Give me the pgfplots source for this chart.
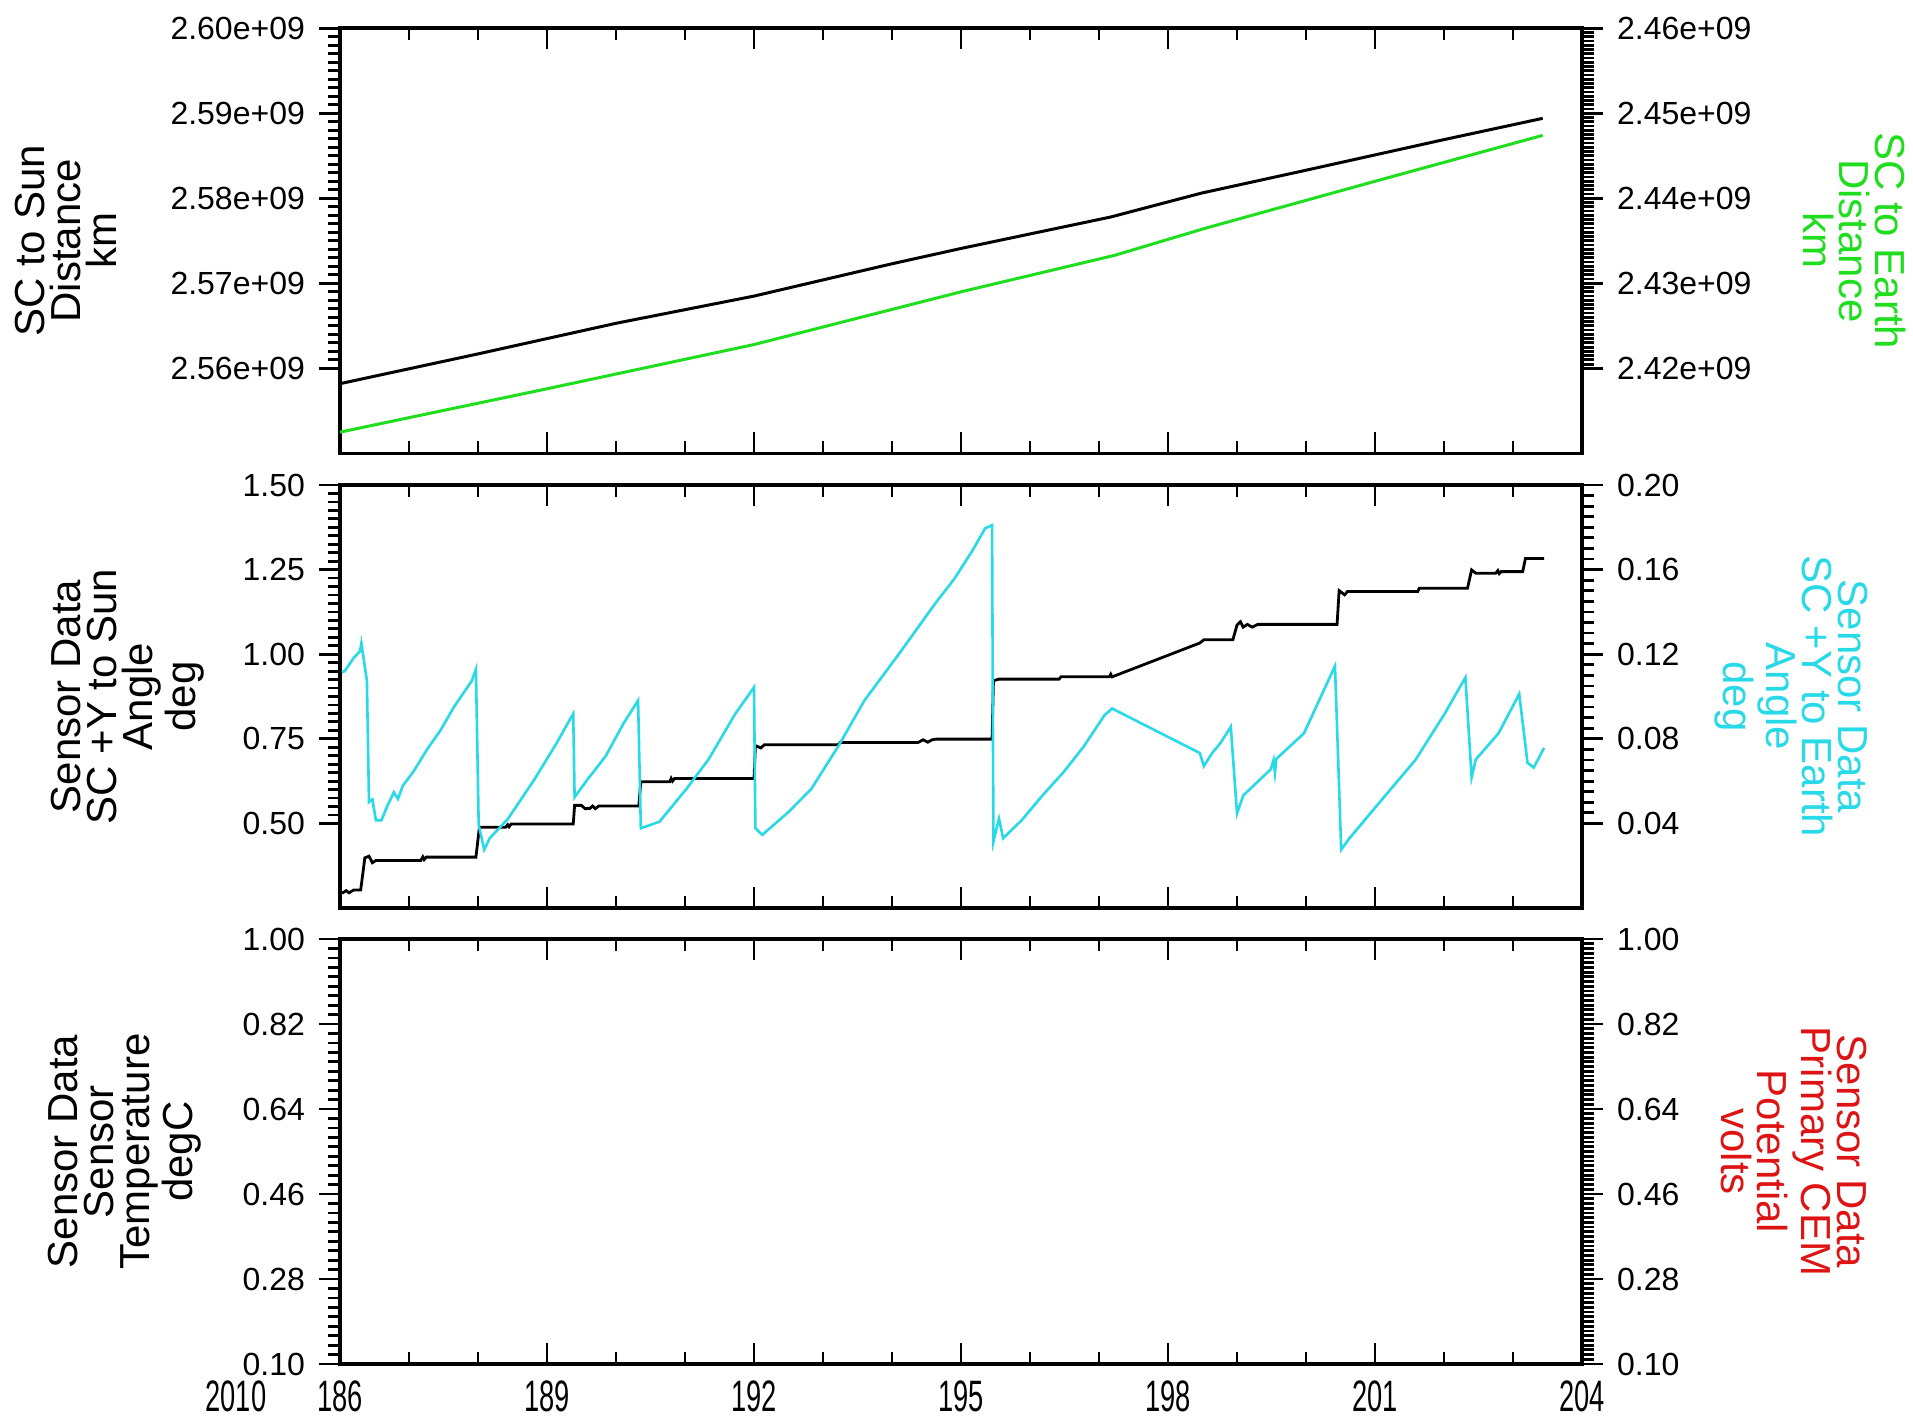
\documentclass[border=0pt]{standalone}
\usepackage{fontspec}
\setmainfont{Liberation Sans}
\usepackage{graphicx}
\usepackage{pgfplots}
\pgfplotsset{compat=1.18}

\definecolor{scgreen}{RGB}{30,222,30}
\definecolor{sccyan}{RGB}{40,218,232}
\definecolor{scred}{RGB}{222,20,20}

\newcommand\ticksize{\fontsize{8}{9}\selectfont}
\newcommand\labsize{\fontsize{10.5}{9}\selectfont}
\newcommand\xsize{\fontsize{11}{12}\selectfont}
\newcommand\cx[1]{\scalebox{0.62}[1]{#1}}

\pgfplotsset{
  base/.style={
    scale only axis, width=310.5pt, anchor=south west,
    xmin=186, xmax=204,
    axis line style={line width=0.9pt},
    every tick/.style={line width=0.7pt, black},
    major tick length=5.25pt, minor tick length=3pt,
    tick label style={font=\ticksize},
  },
  leftax/.style={base,
    xtick={186,189,...,204}, minor x tick num=2,
    xtick align=inside, ytick align=outside,
    xtick pos=both, ytick pos=left, xticklabels={},
  },
  rightax/.style={base,
    xtick=\empty, ytick align=outside,
    ytick pos=right, yticklabel pos=right,
  },
}

\begin{document}
\begin{tikzpicture}
\useasboundingbox (0,0) rectangle (478.25pt,354.25pt);

% ---- top panel: distances (units of 1e9 km)
\begin{axis}[leftax, name=top, at={(85pt,240.9pt)}, height=106.3pt,
  ymin=2.55, ymax=2.60, ytick={2.56,2.57,2.58,2.59,2.60},
  yticklabels={2.56e+09,2.57e+09,2.58e+09,2.59e+09,2.60e+09},
  minor y tick num=9]
\addplot[black, line width=0.75pt] coordinates {
  (186.0,2.5582) (188,2.5617) (190,2.5653) (192,2.5685) (194,2.5723)
  (195,2.5741) (197.17,2.5778) (198.48,2.5806) (200,2.5833) (202,2.5869)
  (203.43,2.5894)};
\end{axis}
\begin{axis}[rightax, name=topR, at={(85pt,240.9pt)}, height=106.3pt,
  ymin=2.41, ymax=2.46, ytick={2.42,2.43,2.44,2.45,2.46},
  yticklabels={2.42e+09,2.43e+09,2.44e+09,2.45e+09,2.46e+09},
  minor y tick num=19]
\addplot[scgreen, line width=0.75pt] coordinates {
  (186.0,2.4125) (189,2.4176) (192,2.4228) (195,2.4290) (197.23,2.4333)
  (198.55,2.4365) (201,2.4420) (203.43,2.4474)};
\end{axis}

% ---- middle panel: angles
\begin{axis}[leftax, name=mid, at={(85pt,127.25pt)}, height=105.75pt,
  ymin=0.25, ymax=1.50, ytick={0.50,0.75,1.00,1.25,1.50},
  yticklabels={0.50,0.75,1.00,1.25,1.50},
  minor y tick num=9]
\addplot[black, line width=0.7pt] coordinates {
  (186.03,0.2936) (186.09,0.3014) (186.13,0.2950) (186.20,0.3033) (186.30,0.3033)
  (186.36,0.3983) (186.42,0.4031) (186.47,0.3837) (186.52,0.3905) (187.17,0.3905)
  (187.20,0.4010) (187.22,0.3930) (187.25,0.4003) (187.97,0.4003)
  (188.02,0.4884) (188.40,0.4884) (188.43,0.4960) (188.45,0.4900) (188.48,0.4981) (189.38,0.4981)
  (189.40,0.5533) (189.50,0.5533) (189.55,0.5436) (189.62,0.5440) (189.66,0.5514) (189.70,0.5436)
  (189.75,0.5514) (190.33,0.5514)
  (190.36,0.6231) (190.78,0.6231) (190.80,0.6330) (190.82,0.6250) (190.85,0.6328) (192.00,0.6328)
  (192.02,0.7297) (192.10,0.7230) (192.15,0.7326) (193.22,0.7326) (193.25,0.7393)
  (194.38,0.7393) (194.45,0.7471) (194.52,0.7400) (194.58,0.7471) (194.64,0.7491) (195.45,0.7491)
  (195.47,0.9215) (195.55,0.9264) (196.42,0.9264) (196.45,0.9331) (197.15,0.9331)
  (197.17,0.9409) (197.19,0.9331) (198.46,1.0330) (198.52,1.0427) (198.94,1.0427)
  (199.00,1.0863) (199.05,1.0960) (199.09,1.0800) (199.15,1.0880) (199.22,1.0800)
  (199.30,1.0882) (200.45,1.0882)
  (200.48,1.1880) (200.56,1.1754) (200.60,1.1851) (201.62,1.1851) (201.64,1.1948)
  (202.34,1.1948) (202.40,1.2491) (202.46,1.2393) (202.75,1.2393) (202.78,1.2470)
  (202.80,1.2380) (202.83,1.2440) (203.14,1.2440) (203.18,1.2829) (203.45,1.2829)};
\end{axis}
\begin{axis}[rightax, name=midR, at={(85pt,127.25pt)}, height=105.75pt,
  ymin=0, ymax=0.20, ytick={0.04,0.08,0.12,0.16,0.20},
  yticklabels={0.04,0.08,0.12,0.16,0.20},
  minor y tick num=7]
\addplot[sccyan, line width=0.65pt] coordinates {
  (186.03,0.1113) (186.07,0.1121) (186.20,0.1183) (186.29,0.1214) (186.31,0.1252)
  (186.39,0.1074) (186.42,0.0501) (186.47,0.0513) (186.52,0.0415) (186.60,0.0415)
  (186.68,0.0478) (186.78,0.0547) (186.84,0.0516) (186.91,0.0578) (187.07,0.0648)
  (187.26,0.0749) (187.46,0.0842) (187.65,0.0950) (187.78,0.1012) (187.91,0.1074)
  (187.97,0.1129) (188.01,0.0392) (188.09,0.0276) (188.17,0.0330) (188.43,0.0420)
  (188.82,0.0609) (189.14,0.0780) (189.38,0.0919)
  (189.40,0.0524) (189.59,0.0609) (189.85,0.0718) (190.11,0.0873) (190.32,0.0981)
  (190.36,0.0377) (190.63,0.0408) (191.02,0.0563) (191.34,0.0702) (191.73,0.0919)
  (192.00,0.1043) (192.02,0.0377) (192.12,0.0346) (192.50,0.0454) (192.83,0.0563)
  (193.22,0.0764) (193.60,0.0981) (194.12,0.1210) (194.64,0.1446) (194.90,0.1555)
  (195.16,0.1687) (195.35,0.1795) (195.45,0.1810)
  (195.47,0.0315) (195.55,0.0423) (195.61,0.0330) (195.88,0.0415) (196.18,0.0532)
  (196.48,0.0640) (196.78,0.0764) (197.08,0.0912) (197.19,0.0943)
  (198.46,0.0733) (198.52,0.0671) (198.64,0.0733) (198.76,0.0780) (198.91,0.0857)
  (199.00,0.0447) (199.09,0.0532) (199.49,0.0656) (199.53,0.0700) (199.55,0.0640)
  (199.57,0.0705) (199.97,0.0826) (200.42,0.1144)
  (200.51,0.0276) (200.63,0.0330) (200.99,0.0470) (201.59,0.0702) (202.01,0.0919)
  (202.31,0.1090) (202.40,0.0617) (202.46,0.0702) (202.79,0.0826) (203.09,0.1012)
  (203.21,0.0687) (203.30,0.0664) (203.45,0.0757)};
\end{axis}

% ---- bottom panel: empty
\begin{axis}[leftax, name=bot, at={(85pt,13.25pt)}, height=106.25pt,
  ymin=0.10, ymax=1.00, ytick={0.10,0.28,0.46,0.64,0.82,1.00},
  yticklabels={0.10,0.28,0.46,0.64,0.82,1.00},
  minor y tick num=8,
  xticklabels={\cx{186},\cx{189},\cx{192},\cx{195},\cx{198},\cx{201},\cx{204}},
  xticklabel style={font=\xsize, inner sep=0.4em}]
\end{axis}
\begin{axis}[rightax, name=botR, at={(85pt,13.25pt)}, height=106.25pt,
  ymin=0.10, ymax=1.00, ytick={0.10,0.28,0.46,0.64,0.82,1.00},
  yticklabels={0.10,0.28,0.46,0.64,0.82,1.00},
  minor y tick num=17]
\end{axis}

\node[anchor=north, font=\xsize, inner sep=0.4em] at ([xshift=-26pt]bot.south west) {\cx{2010}};

% axis titles
\node[rotate=90, align=center, font=\labsize] at ([xshift=-68.5pt]top.west) {SC to Sun\\Distance\\km};
\node[rotate=-90, align=center, font=\labsize, text=scgreen] at ([xshift=68.25pt]topR.east) {SC to Earth\\Distance\\km};
\node[rotate=90, align=center, font=\labsize] at ([xshift=-53.1pt]mid.west) {Sensor Data\\SC +Y to Sun\\Angle\\deg};
\node[rotate=-90, align=center, font=\labsize, text=sccyan] at ([xshift=52.25pt]midR.east) {Sensor Data\\SC +Y to Earth\\Angle\\deg};
\node[rotate=90, align=center, font=\labsize] at ([xshift=-53.75pt]bot.west) {Sensor Data\\Sensor\\Temperature\\degC};
\node[rotate=-90, align=center, font=\labsize, text=scred] at ([xshift=53pt]botR.east) {Sensor Data\\Primary CEM\\Potential\\volts};
\end{tikzpicture}
\end{document}
